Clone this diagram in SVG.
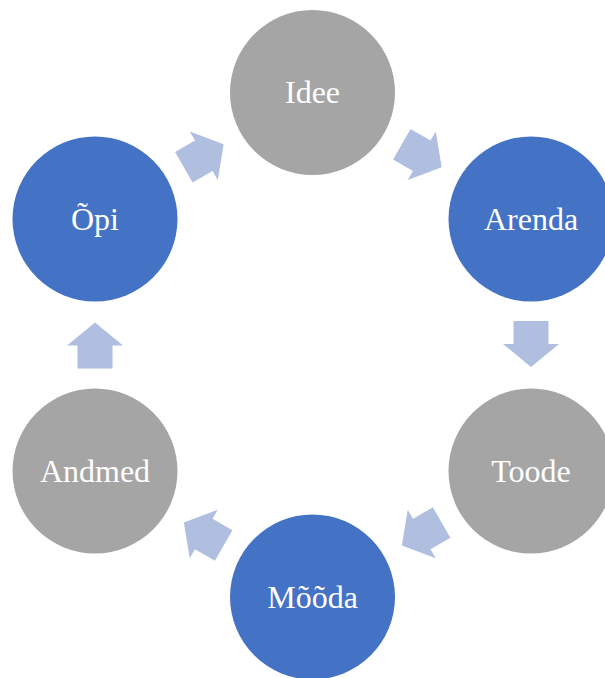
<svg xmlns="http://www.w3.org/2000/svg" width="605" height="678" viewBox="0 0 605 678">
<style>
.grey{fill:#A5A5A5}
.blue{fill:#4472C4}
.lbl{font-family:"Liberation Serif","Times New Roman",serif;font-size:32px;fill:#FFFFFF;text-anchor:middle}
.arr{fill:#B0BEE0}
</style>
<defs>
<polygon id="arrow" points="-23,-17.5 0,-17.5 0,-28 23,0 0,28 0,17.5 -23,17.5"/>
</defs>
<g id="connectors">
<use href="#arrow" class="arr" transform="translate(421.75,155.75) rotate(30)"/>
<use href="#arrow" class="arr" transform="translate(531,344) rotate(90)"/>
<use href="#arrow" class="arr" transform="translate(421.75,534) rotate(150)"/>
<use href="#arrow" class="arr" transform="translate(203.75,534) rotate(210)"/>
<use href="#arrow" class="arr" transform="translate(95,345.5) rotate(270)"/>
<use href="#arrow" class="arr" transform="translate(203.75,155.75) rotate(330)"/>
</g>
<g id="idee"><circle class="grey" cx="312.5" cy="92.5" r="82.5"/><text class="lbl" x="312.5" y="103">Idee</text></g>
<g id="arenda"><circle class="blue" cx="531" cy="219" r="82.5"/><text class="lbl" x="531" y="229.5">Arenda</text></g>
<g id="toode"><circle class="grey" cx="531" cy="471" r="82.5"/><text class="lbl" x="531" y="481.5">Toode</text></g>
<g id="mooda"><circle class="blue" cx="312.5" cy="597" r="82.5"/><text class="lbl" x="312.5" y="607.5">Mõõda</text></g>
<g id="andmed"><circle class="grey" cx="95" cy="471" r="82.5"/><text class="lbl" x="95" y="481.5">Andmed</text></g>
<g id="opi"><circle class="blue" cx="95" cy="219" r="82.5"/><text class="lbl" x="95" y="229.5">Õpi</text></g>
</svg>
